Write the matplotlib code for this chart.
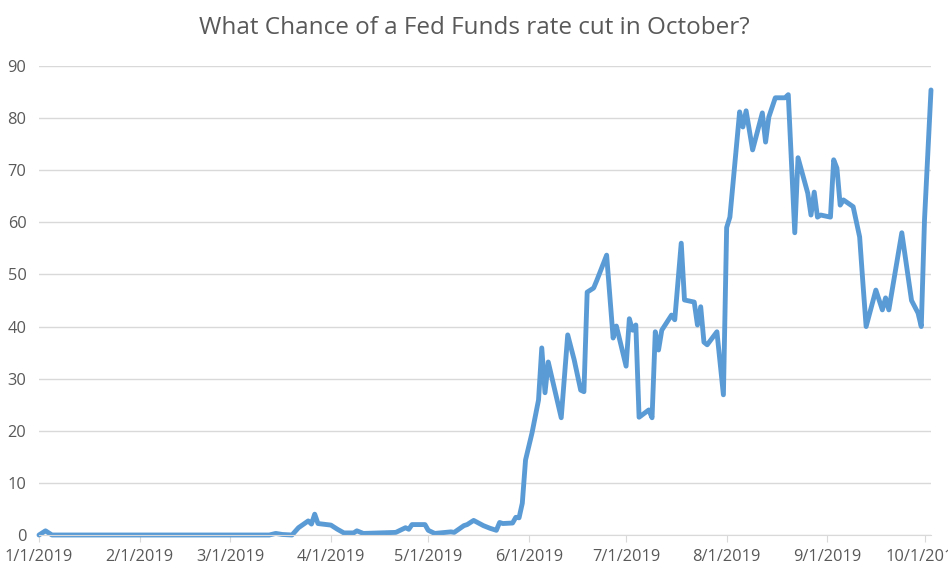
import pandas as pd
import numpy as np
import matplotlib.pyplot as plt
import matplotlib.dates as mdates

# dates / probability (%)
dates = [
    "2019-01-01", "2019-01-03", "2019-01-05", "2019-03-13", "2019-03-15", "2019-03-17",
    "2019-03-20", "2019-03-22", "2019-03-25", "2019-03-26", "2019-03-27", "2019-03-28",
    "2019-04-01", "2019-04-03", "2019-04-05", "2019-04-08", "2019-04-09", "2019-04-11",
    "2019-04-21", "2019-04-24", "2019-04-25", "2019-04-26", "2019-04-30", "2019-05-01",
    "2019-05-03", "2019-05-08", "2019-05-09", "2019-05-12", "2019-05-13", "2019-05-15",
    "2019-05-18", "2019-05-20", "2019-05-22", "2019-05-23", "2019-05-24", "2019-05-27",
    "2019-05-28", "2019-05-29", "2019-05-30", "2019-05-31", "2019-06-02", "2019-06-04",
    "2019-06-05", "2019-06-06", "2019-06-07", "2019-06-11", "2019-06-13", "2019-06-15",
    "2019-06-17", "2019-06-18", "2019-06-19", "2019-06-21", "2019-06-22", "2019-06-25",
    "2019-06-27", "2019-06-28", "2019-07-01", "2019-07-02", "2019-07-03", "2019-07-04",
    "2019-07-05", "2019-07-08", "2019-07-09", "2019-07-10", "2019-07-11", "2019-07-12",
    "2019-07-15", "2019-07-16", "2019-07-18", "2019-07-19", "2019-07-22", "2019-07-23",
    "2019-07-24", "2019-07-25", "2019-07-26", "2019-07-29", "2019-07-31", "2019-08-01",
    "2019-08-02", "2019-08-05", "2019-08-06", "2019-08-07", "2019-08-09", "2019-08-12",
    "2019-08-13", "2019-08-14", "2019-08-16", "2019-08-19", "2019-08-20", "2019-08-22",
    "2019-08-23", "2019-08-26", "2019-08-27", "2019-08-28", "2019-08-29", "2019-08-30",
    "2019-09-02", "2019-09-03", "2019-09-04", "2019-09-05", "2019-09-06", "2019-09-09",
    "2019-09-11", "2019-09-12", "2019-09-13", "2019-09-16", "2019-09-18", "2019-09-19",
    "2019-09-20", "2019-09-24", "2019-09-27", "2019-09-29", "2019-09-30", "2019-10-01",
    "2019-10-03",
]
chance = [
    0, 0.8, 0, 0, 0.3, 0.1,
    0, 1.4, 2.7, 2.1, 4.0, 2.2,
    1.9, 1.1, 0.4, 0.4, 0.8, 0.3,
    0.5, 1.4, 1.1, 2.0, 2.0, 0.9,
    0.3, 0.6, 0.5, 1.8, 2.0, 2.8,
    1.8, 1.3, 0.9, 2.4, 2.2, 2.3,
    3.4, 3.3, 6.1, 14.4, 19.6, 25.9,
    35.9, 27.3, 33.2, 22.5, 38.4, 33.6,
    27.8, 27.5, 46.6, 47.4, 48.9, 53.7,
    37.8, 40.1, 32.4, 41.5, 39.3, 40.3,
    22.6, 24.0, 22.5, 39.0, 35.5, 39.3,
    42.2, 41.3, 56.0, 45.1, 44.7, 40.3,
    43.8, 37.0, 36.5, 39.0, 26.9, 59.0,
    61.0, 81.2, 78.3, 81.4, 73.9, 81.0,
    75.4, 80.2, 83.9, 83.9, 84.5, 58.0,
    72.4, 65.6, 61.4, 65.8, 61.0, 61.4,
    61.0, 72.0, 70.4, 63.3, 64.3, 63.0,
    57.2, 48.4, 40.0, 47.0, 43.2, 45.5,
    43.2, 58.0, 45.0, 42.6, 40.0, 60.5,
    85.4,
]
yticks = [0, 10, 20, 30, 40, 50, 60, 70, 80, 90]

df = pd.DataFrame({"date": pd.to_datetime(dates), "chance": chance})

grey = "#595959"
grid = "#D9D9D9"

fig = plt.figure(figsize=(9.48, 5.84), dpi=100)
ax = fig.add_axes([39 / 948, 1 - 535 / 584, (931 - 39) / 948, (535 - 66) / 584])

ax.plot(df["date"], df["chance"], color="#5B9BD5", linewidth=3.5,
        solid_joinstyle="round", solid_capstyle="round", clip_on=False)

ax.set_xlim(df["date"].iloc[0], df["date"].iloc[-1])
ax.set_ylim(0, 90)
ax.set_yticks(yticks)
ax.grid(axis="y", color=grid, linewidth=1.0)
ax.set_axisbelow(True)

ax.xaxis.set_major_locator(mdates.MonthLocator())
ax.xaxis.set_major_formatter(
    plt.FuncFormatter(lambda v, p: "{0.month}/{0.day}/{0.year}".format(mdates.num2date(v))))

for s in ["left", "right", "top"]:
    ax.spines[s].set_visible(False)
ax.spines["bottom"].set_color(grid)
ax.tick_params(axis="x", colors=grey, labelsize=11.8, length=5, color=grid, pad=5)
ax.tick_params(axis="y", colors=grey, labelsize=11.8, length=0, pad=9)
for lab in ax.get_xticklabels() + ax.get_yticklabels():
    lab.set_family("Open Sans")

fig.text(0.5, 1 - 28 / 584, "What Chance of a Fed Funds rate cut in October?",
         ha="center", va="center", fontsize=17.5, color=grey, family="Open Sans")

plt.savefig("out.png", dpi=100)
plt.close()
